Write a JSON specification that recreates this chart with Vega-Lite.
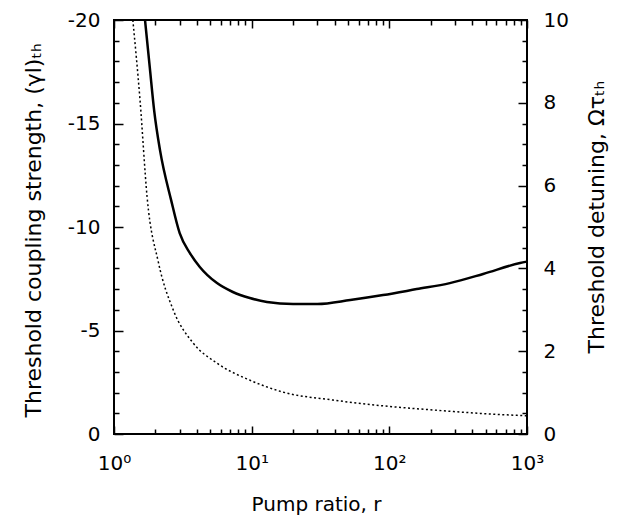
{
  "$schema": "https://vega.github.io/schema/vega-lite/v6.json",
  "width": 413,
  "height": 414,
  "autosize": {"type": "none"},
  "padding": {"left": 114, "top": 20, "right": 103, "bottom": 85},
  "background": "white",
  "config": {
    "view": {"stroke": "black", "strokeWidth": 2},
    "axis": {
      "domain": false,
      "tickColor": "black",
      "tickWidth": 1.5,
      "grid": false,
      "zindex": 1,
      "labelFont": "DejaVu Sans",
      "labelFontSize": 20,
      "labelColor": "black",
      "titleFont": "DejaVu Sans",
      "titleFontSize": 22,
      "titleFontWeight": "normal",
      "titleColor": "black",
      "labelOverlap": false,
      "labelFlush": false
    }
  },
  "datasets": {
    "g": [
      {"r": 1.68, "g": -20},
      {"r": 1.82, "g": -17.7},
      {"r": 1.96, "g": -15.6},
      {"r": 2.16, "g": -13.7},
      {"r": 2.6, "g": -11.3},
      {"r": 3.0, "g": -9.7},
      {"r": 3.56, "g": -8.74},
      {"r": 4.2, "g": -8.07},
      {"r": 5.6, "g": -7.29},
      {"r": 7.3, "g": -6.86},
      {"r": 9.7, "g": -6.57},
      {"r": 12.9, "g": -6.38},
      {"r": 20, "g": -6.28},
      {"r": 30, "g": -6.28},
      {"r": 52, "g": -6.47},
      {"r": 90, "g": -6.71},
      {"r": 158, "g": -7.0},
      {"r": 275, "g": -7.29},
      {"r": 480, "g": -7.73},
      {"r": 890, "g": -8.26},
      {"r": 1000, "g": -8.33}
    ],
    "w": [
      {"r": 1.37, "w": 10},
      {"r": 1.545, "w": 8.07},
      {"r": 1.74, "w": 5.72},
      {"r": 2.1, "w": 4.15},
      {"r": 2.69, "w": 3.0},
      {"r": 3.75, "w": 2.2},
      {"r": 5.6, "w": 1.71},
      {"r": 9.7, "w": 1.3},
      {"r": 17, "w": 1.01},
      {"r": 39, "w": 0.82},
      {"r": 90, "w": 0.68},
      {"r": 208, "w": 0.58},
      {"r": 500, "w": 0.49},
      {"r": 850, "w": 0.45},
      {"r": 1000, "w": 0.44}
    ]
  },
  "layer": [
    {
      "data": {"name": "g"},
      "mark": {"type": "line", "color": "black", "strokeWidth": 2.5, "clip": true, "interpolate": "monotone"},
      "encoding": {
        "x": {
          "field": "r", "type": "quantitative",
          "scale": {"type": "log", "domain": [1, 1000], "nice": false},
          "axis": {
            "orient": "bottom",
            "offset": -8,
            "title": "Pump ratio, r",
            "titleFontSize": 20,
            "titleX": 202, "titleY": 84, "titleBaseline": "alphabetic", "titleAlign": "center",
            "values": [1, 10, 100, 1000],
            "labelExpr": "datum.value == 1 ? '10⁰' : datum.value == 10 ? '10¹' : datum.value == 100 ? '10²' : '10³'",
            "tickSize": 8,
            "labelPadding": 19,
            "labelFontSize": 20
          }
        },
        "y": {
          "field": "g", "type": "quantitative",
          "scale": {"domain": [-20, 0], "reverse": true, "nice": false},
          "axis": {
            "orient": "left",
            "offset": -9,
            "title": "Threshold coupling strength, (γl)ₜₕ",
            "titleAngle": 270, "titleX": -83, "titleY": 397, "titleAlign": "left", "titleBaseline": "alphabetic",
            "values": [-20, -15, -10, -5, 0],
            "labelExpr": "toString(datum.value)",
            "tickSize": 9,
            "labelPadding": 14
          }
        }
      }
    },
    {
      "data": {"name": "w"},
      "mark": {"type": "line", "color": "black", "strokeWidth": 1.5, "strokeDash": [2, 2.5], "clip": true, "interpolate": "monotone"},
      "encoding": {
        "x": {
          "field": "r", "type": "quantitative",
          "scale": {"type": "log", "domain": [1, 1000], "nice": false},
          "axis": {
            "orient": "top",
            "offset": -8,
            "title": null,
            "values": [1, 10, 100, 1000],
            "labels": false,
            "tickSize": 8
          }
        },
        "y": {
          "field": "w", "type": "quantitative",
          "scale": {"domain": [0, 10], "nice": false},
          "axis": {
            "orient": "right",
            "offset": -9,
            "title": "Threshold detuning, Ωτₜₕ",
            "titleAngle": 270, "titleX": 85, "titleY": 333, "titleAlign": "left", "titleBaseline": "alphabetic",
            "values": [0, 2, 4, 6, 8, 10],
            "labelExpr": "toString(datum.value)",
            "tickSize": 9,
            "labelPadding": 16
          }
        }
      }
    },
    {
      "data": {"name": "g"},
      "mark": {"type": "line", "opacity": 0},
      "encoding": {
        "x": {
          "field": "r", "type": "quantitative",
          "scale": {"type": "log", "domain": [1, 1000], "nice": false},
          "axis": {
            "orient": "bottom", "offset": -5, "title": null, "labels": false,
            "values": [2,3,4,5,6,7,8,9,20,30,40,50,60,70,80,90,200,300,400,500,600,700,800,900],
            "tickSize": 5
          }
        },
        "y": {
          "field": "g", "type": "quantitative",
          "scale": {"domain": [-20, 0], "reverse": true, "nice": false},
          "axis": {
            "orient": "left", "offset": -5, "title": null, "labels": false,
            "values": [-19,-18,-17,-16,-14,-13,-12,-11,-9,-8,-7,-6,-4,-3,-2,-1],
            "tickSize": 5
          }
        }
      }
    },
    {
      "data": {"name": "w"},
      "mark": {"type": "line", "opacity": 0},
      "encoding": {
        "x": {
          "field": "r", "type": "quantitative",
          "scale": {"type": "log", "domain": [1, 1000], "nice": false},
          "axis": {
            "orient": "top", "offset": -5, "title": null, "labels": false,
            "values": [2,3,4,5,6,7,8,9,20,30,40,50,60,70,80,90,200,300,400,500,600,700,800,900],
            "tickSize": 5
          }
        },
        "y": {
          "field": "w", "type": "quantitative",
          "scale": {"domain": [0, 10], "nice": false},
          "axis": {
            "orient": "right", "offset": -5, "title": null, "labels": false,
            "values": [0.5,1,1.5,2.5,3,3.5,4.5,5,5.5,6.5,7,7.5,8.5,9,9.5],
            "tickSize": 5
          }
        }
      }
    }
  ],
  "resolve": {"scale": {"y": "independent"}, "axis": {"x": "independent", "y": "independent"}}
}
